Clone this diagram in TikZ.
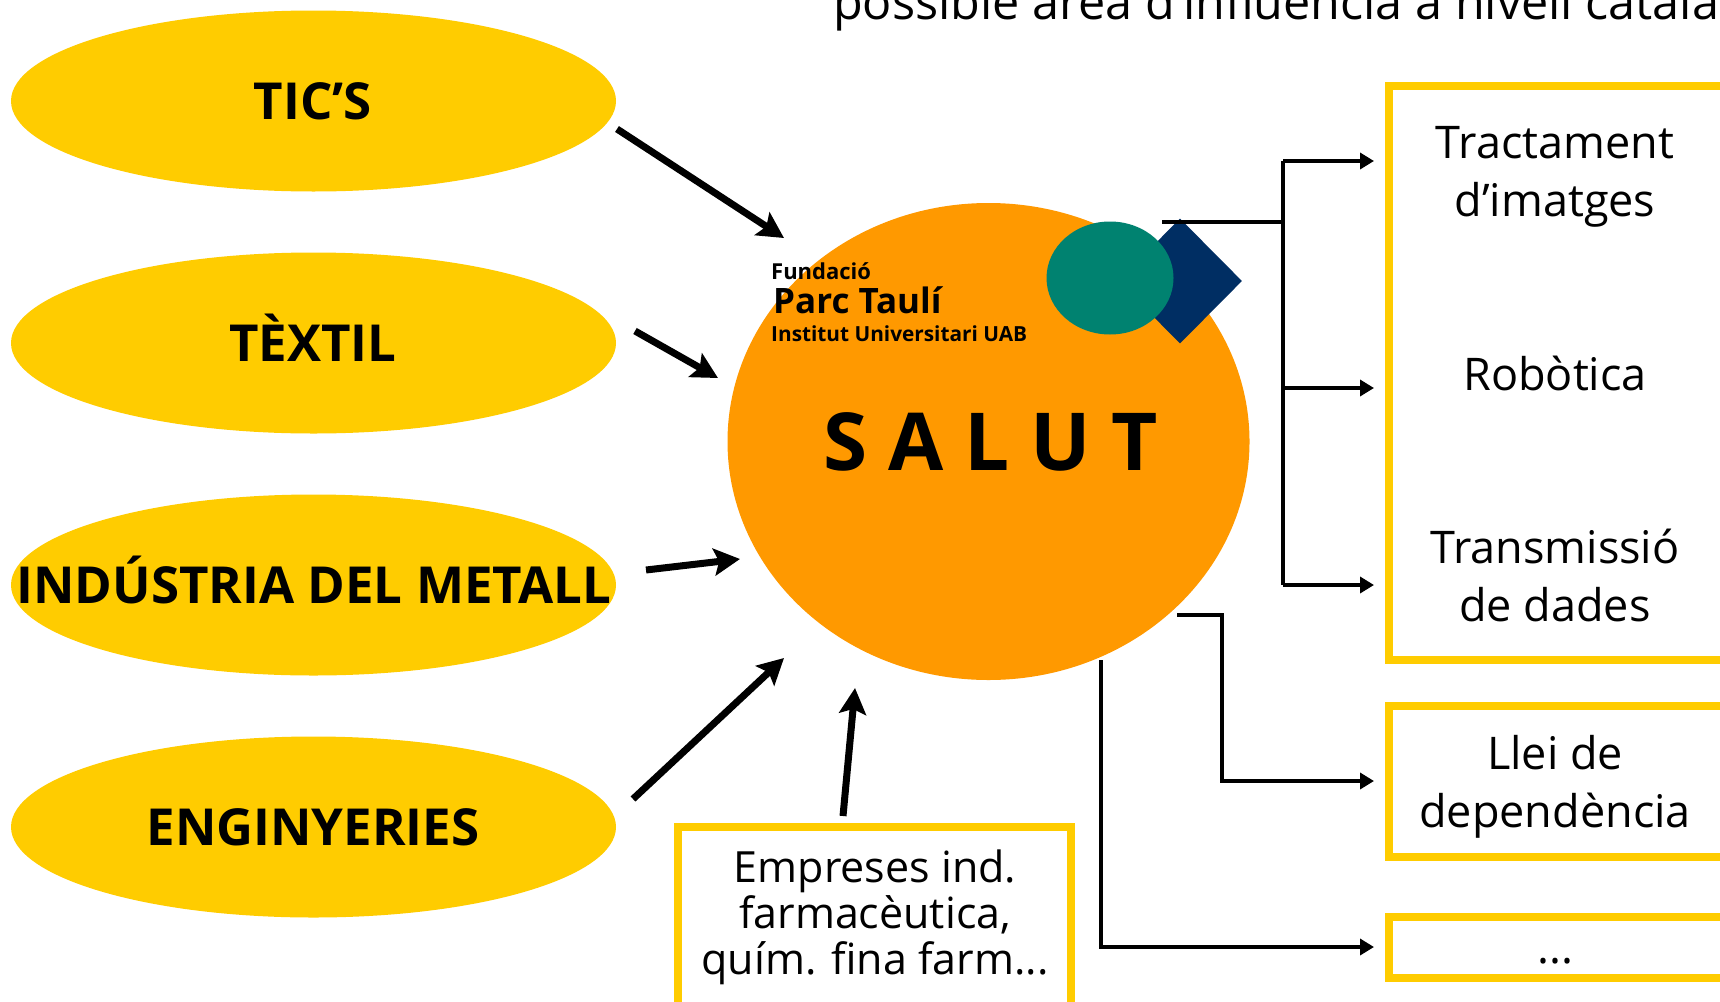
\documentclass[tikz,border=0pt]{standalone}
\usepackage{fontspec}
\setmainfont{Open Sans}
\usetikzlibrary{arrows.meta,shapes.geometric}
\definecolor{yel}{HTML}{FFCC00}
\definecolor{org}{HTML}{FF9900}
\definecolor{grn}{HTML}{008270}
\definecolor{blu}{HTML}{002E63}
\tikzset{
  sector/.style={ellipse,fill=yel,minimum width=605pt,minimum height=181pt,inner sep=0pt},
  sectortext/.style={anchor=base,inner sep=0pt,font=\fontsize{51}{54}\selectfont\bfseries},
  infobox/.style={draw=yel,line width=8pt,fill=white,inner sep=0pt,align=center,anchor=north west},
  body/.style={font=\fontsize{45}{58}\selectfont,align=center,inner sep=0pt},
  thick arrow/.style={line width=7pt,-{Stealth[length=26pt,width=27pt,inset=5pt]}},
  thin arrow/.style={line width=3.5pt,-{Triangle[length=14pt,width=16pt]}},
  thin line/.style={line width=3.5pt},
  logo/.style={inner sep=0pt,anchor=west,text=black}
}
\begin{document}
\begin{tikzpicture}[x=1pt,y=-1pt]
\clip (0,0) rectangle (1720,1001);
\fill[white] (0,0) rectangle (1720,1001);
% title
\node[anchor=base west,inner sep=0pt,font=\fontsize{48.5}{50}\selectfont] (title) at (833,19) {possible àrea d’influència a nivell català};
% sectors
\node[sector] (tics) at (313.5,101) {};
\node[sector] (textil) at (313.5,343) {};
\node[sector] (metall) at (313.5,585) {};
\node[sector] (engin) at (313.5,827) {};
\node[sectortext] (ticst) at (313,119) {TIC’S};
\node[sectortext] (textilt) at (313,361) {TÈXTIL};
\node[sectortext] (metallt) at (314,603) {INDÚSTRIA DEL METALL};
\node[sectortext] (engint) at (313,845) {ENGINYERIES};
% salut
\node[ellipse,fill=org,minimum width=522pt,minimum height=477pt,inner sep=0pt] (salut) at (988.5,441.5) {};
\node[inner sep=0pt,font=\fontsize{80}{84}\selectfont\bfseries] (salutt) at (991,442) {S A L U T};
% logo
\node[diamond,fill=blu,minimum width=124pt,minimum height=125pt,inner sep=0pt] (dia) at (1180,281) {};
\node[ellipse,fill=grn,minimum width=127pt,minimum height=113pt,inner sep=0pt] (gc) at (1110,278) {};
\node[logo,font=\fontsize{22}{24}\selectfont\bfseries] (l1) at (771,271) {Fundació};
\node[logo,font=\fontsize{35}{38}\selectfont\bfseries] (l2) at (773,300) {Parc Taulí};
\node[logo,font=\fontsize{20.8}{22}\selectfont\bfseries] (l3) at (771,334) {Institut Universitari UAB};
% boxes
\node[infobox,minimum width=400pt,minimum height=574pt] (b1) at (1385,82) {};
\node[body] (t1a) at (1555,177) {Tractament\\d’imatges};
\node[body] (t1b) at (1555,373) {Robòtica};
\node[body] (t1c) at (1555,575) {Transmissió\\de dades};
\node[infobox,minimum width=400pt,minimum height=151pt] (b2) at (1385,702) {};
\node[body] (t2) at (1555,787) {Llei de\\dependència};
\node[infobox,minimum width=400pt,minimum height=61pt] (b3) at (1385,913) {};
\node[body] (t3) at (1555,961) {...};
\node[infobox,minimum width=393pt,minimum height=200pt] (b4) at (674,823) {};
\node[body,font=\fontsize{43}{46}\selectfont] (t4) at (875,917) {Empreses ind.\\farmacèutica,\\quím. fina farm...};
% thick arrows
\coordinate (a1s) at (617,129); \coordinate (a1e) at (784,238);
\coordinate (a2s) at (635,331); \coordinate (a2e) at (718,378);
\coordinate (a3s) at (646,570); \coordinate (a3e) at (740,559);
\coordinate (a4s) at (633,799); \coordinate (a4e) at (784,658);
\coordinate (a5s) at (843,816); \coordinate (a5e) at (855,688);
\draw[thick arrow] (a1s) -- (a1e);
\draw[thick arrow] (a2s) -- (a2e);
\draw[thick arrow] (a3s) -- (a3e);
\draw[thick arrow] (a4s) -- (a4e);
\draw[thick arrow] (a5s) -- (a5e);
% thin connectors
\coordinate (tree) at (1283,222);
\coordinate (logoend) at (1162,222);
\coordinate (e1) at (1374,161);
\coordinate (e2) at (1374,388);
\coordinate (e3) at (1374,585);
\draw[thin line] (logoend) -- (tree);
\draw[thin line] (tree |- e1) -- (tree |- e3);
\draw[thin arrow] (tree |- e1) -- (e1);
\draw[thin arrow] (tree |- e2) -- (e2);
\draw[thin arrow] (tree |- e3) -- (e3);
\coordinate (s2) at (1177,615); \coordinate (k2) at (1222,615); \coordinate (e4) at (1374,781);
\draw[thin arrow] (s2) -- (k2) |- (e4);
\coordinate (s3) at (1101,660); \coordinate (e5) at (1374,947);
\draw[thin arrow] (s3) |- (e5);
\end{tikzpicture}
\end{document}
